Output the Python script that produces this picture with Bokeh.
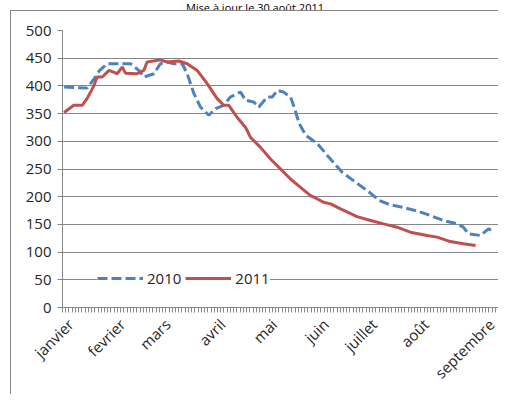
import math
from bokeh.plotting import figure
from bokeh.layouts import column
from bokeh.models import Range1d, FixedTicker, Legend, LegendItem, Div
from bokeh.embed import file_html
from bokeh.resources import INLINE

title_text = "Mise à jour le 30 août 2011"
month_labels = ["janvier", "fevrier", "mars", "avril", "mai", "juin", "juillet", "août", "septembre"]
month_pos = [2, 18, 32, 49, 65, 81, 96, 112, 133]
n_categories = 135
y_ticks = [0, 50, 100, 150, 200, 250, 300, 350, 400, 450, 500]

x2010 = [0, 3, 7.1, 9.2, 11, 13.3, 16, 20.6, 23.1, 24.7, 27.8, 29.8, 31.9, 34, 36.6, 38.1, 40.2,
         42.2, 44.8, 46.9, 49.4, 51.5, 54.6, 56.2, 58.7, 60.3, 62.9, 64.5, 66, 67.9, 70.1, 71.2,
         72.8, 74.8, 78.4, 82, 86.1, 90.3, 94.5, 97.6, 100.7, 104.8, 109.4, 113.4, 117.5, 121.7,
         123.6, 125.2, 128.9, 131.4, 132.5]
y2010 = [398, 397, 396, 412, 428, 440, 440, 440, 428, 416, 422, 440, 443, 440, 440, 422, 386,
         362, 347, 359, 365, 380, 389, 374, 371, 362, 380, 380, 392, 389, 380, 362,
         332, 311, 296, 271, 244, 226, 208, 193, 186, 181, 174, 166, 157, 151,
         145, 133, 130, 142, 139]

x2011 = [0, 3, 5.6, 7.1, 9.2, 10.2, 11.8, 13.9, 16.4, 18, 19, 22.6, 24.7, 25.7, 29.8, 31.9, 35.5,
         38.1, 41.2, 44.3, 47.4, 49.4, 51, 53.6, 56.2, 57.7, 60.8, 63.9, 67.5, 70.1, 73.2, 76.3,
         78.4, 80.3, 82.5, 85.6, 90.7, 94.9, 98.9, 103.1, 107.2, 112.4, 115.5, 119.6, 123.6, 127.4]
y2011 = [352, 365, 365, 377, 400, 416, 416, 428, 422, 434, 423, 422, 428, 443, 447, 443, 445,
         440, 428, 404, 377, 365, 365, 343, 325, 307, 289, 268, 247, 232, 217, 202,
         196, 190, 187, 178, 164, 157, 151, 145, 136, 130, 127, 119, 115, 112]

GRAY = "#878787"
TEXT = "#262626"
FONT = "Open Sans"

border_css = """
:host { position: relative; }
:host::after {
  content: ""; position: absolute; left: 10px; top: 0px; right: 0px; bottom: 0px;
  border-left: 1px solid #868686; border-top: 1px solid #868686; pointer-events: none;
}
"""

title_div = Div(
    text=('<div style="font-family:\'Open Sans\';font-size:11px;line-height:10px;'
          'color:#000;text-align:center;width:510px;white-space:nowrap;">'
          + title_text + '</div>'),
    width=498, height=10, margin=0)

p = figure(width=498, height=384, output_backend="svg", toolbar_location=None,
           x_range=Range1d(-0.5, n_categories - 0.5), y_range=Range1d(0, 500),
           min_border_left=62, min_border_right=0, min_border_top=20, min_border_bottom=87,
           margin=0, stylesheets=[border_css])
p.outline_line_color = None
p.background_fill_color = "white"
p.border_fill_color = "white"

# Y axis
p.yaxis.ticker = FixedTicker(ticks=y_ticks)
p.yaxis.major_tick_in = 0
p.yaxis.major_tick_out = 5
p.yaxis.minor_tick_line_color = None
p.yaxis.axis_line_color = GRAY
p.yaxis.major_tick_line_color = GRAY
p.yaxis.major_label_text_font = FONT
p.yaxis.major_label_text_font_size = "15px"
p.yaxis.major_label_text_color = TEXT
p.yaxis.major_label_standoff = 6

# X axis
p.xaxis.ticker = FixedTicker(ticks=month_pos,
                             minor_ticks=[i - 0.5 for i in range(n_categories + 1)])
p.xaxis.major_label_overrides = {pos: lab for pos, lab in zip(month_pos, month_labels)}
p.xaxis.major_tick_in = 0
p.xaxis.major_tick_out = 0
p.xaxis.minor_tick_in = 0
p.xaxis.minor_tick_out = 5
p.xaxis.minor_tick_line_color = GRAY
p.xaxis.axis_line_color = GRAY
p.xaxis.major_label_orientation = math.pi / 4
p.xaxis.major_label_text_font = FONT
p.xaxis.major_label_text_font_size = "15px"
p.xaxis.major_label_text_color = TEXT
p.xaxis.major_label_standoff = 9

p.xgrid.visible = False
p.ygrid.ticker = FixedTicker(ticks=y_ticks)
p.ygrid.grid_line_color = GRAY
p.ygrid.grid_line_width = 1

r2010 = p.line(x2010, y2010, line_color="#4F81BD", line_width=3, line_dash="10 4")
r2011 = p.line(x2011, y2011, line_color="#C0504D", line_width=3)

legend = Legend(items=[LegendItem(label="2010", renderers=[r2010]),
                       LegendItem(label="2011", renderers=[r2011])],
                orientation="horizontal", location=(35, 19),
                border_line_color=None, background_fill_color="white", background_fill_alpha=1.0,
                padding=0, margin=0, spacing=4, glyph_width=46, glyph_height=18,
                label_standoff=4, label_text_font=FONT, label_text_font_size="15px",
                label_text_color=TEXT)
p.add_layout(legend)

layout = column(title_div, p, spacing=0, margin=0)

open("out.html", "w").write(file_html(layout, INLINE))
